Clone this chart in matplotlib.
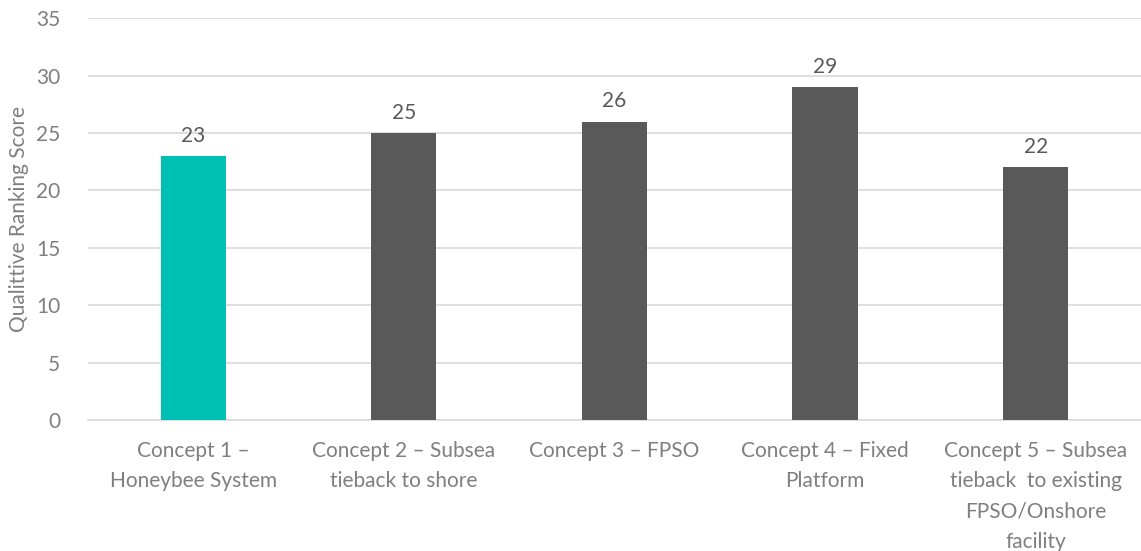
import matplotlib
matplotlib.use("Agg")
import matplotlib.pyplot as plt

plt.rcParams['font.family'] = ['Lato', 'DejaVu Sans']

categories = [
    "Concept 1 \u2013\nHoneybee System",
    "Concept 2 \u2013 Subsea\ntieback to shore",
    "Concept 3 \u2013 FPSO",
    "Concept 4 \u2013 Fixed\nPlatform",
    "Concept 5 \u2013 Subsea\ntieback  to existing\nFPSO/Onshore\nfacility",
]
scores = [23, 25, 26, 29, 22]
bar_colors = ["#00BFB5", "#595959", "#595959", "#595959", "#595959"]

fig = plt.figure(figsize=(11.41, 5.51), dpi=100)
ax = fig.add_axes([0.077, 0.2377, 0.923, 0.7293])

x = range(len(categories))
bars = ax.bar(x, scores, width=0.31, color=bar_colors, zorder=3)
for b, v in zip(bars, scores):
    ax.text(b.get_x() + b.get_width() / 2, v + 0.9, str(v), ha='center', va='bottom',
            fontsize=15, color='#595959')

ax.set_xlim(-0.5, len(categories) - 0.5)
ax.set_ylim(0, 35)
ax.set_yticks(range(0, 36, 5))
ax.yaxis.grid(True, color='#D9D9D9', linewidth=1.2, zorder=0)
ax.set_axisbelow(True)
for s in ['top', 'right', 'left']:
    ax.spines[s].set_visible(False)
ax.spines['bottom'].set_color('#D9D9D9')
ax.spines['bottom'].set_linewidth(1.2)
ax.tick_params(axis='both', length=0, labelsize=15, labelcolor='#7F7F7F')
ax.tick_params(axis='y', pad=20)
ax.tick_params(axis='x', pad=15)
ax.set_xticks(list(x))
ax.set_xticklabels(categories, linespacing=1.65)
ax.set_ylabel("Qualittive Ranking Score", fontsize=15, color='#7F7F7F', labelpad=5)

fig.savefig("out.png", dpi=100)
